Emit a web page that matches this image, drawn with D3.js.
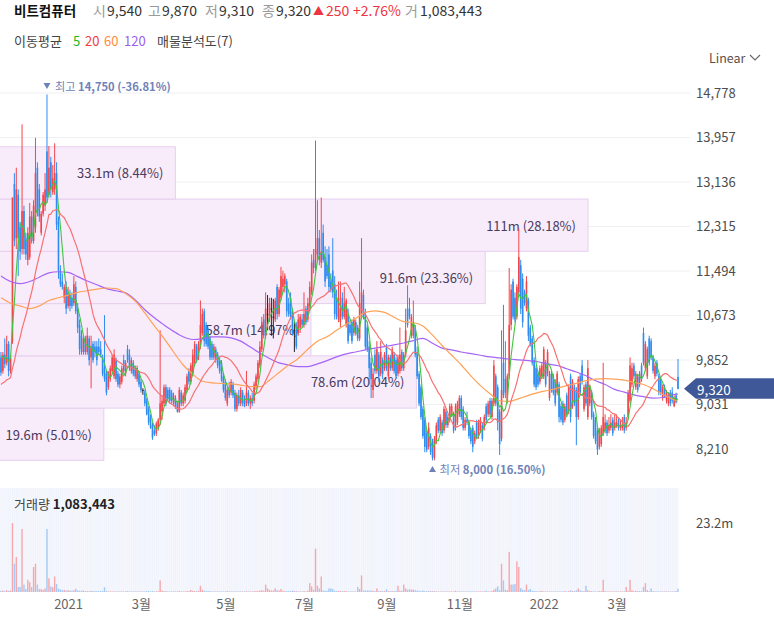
<!DOCTYPE html>
<html><head><meta charset="utf-8">
<script src="https://cdn.jsdelivr.net/npm/d3@7"></script>
<style>
html,body{margin:0;padding:0;background:#fff;}
svg{display:block;font-family:"Noto Sans CJK KR","Noto Sans",sans-serif;}
</style></head><body>
<svg id="chart" width="774" height="622"></svg>
<script>
// ---------------- DATA ----------------
const stockName = "비트컴퓨터";
const startDate = "2020-11-11";
const holidays = ["2020-12-25","2020-12-31","2021-01-01","2021-02-11","2021-02-12","2021-03-01","2021-05-05","2021-05-19",
  "2021-08-16","2021-09-20","2021-09-21","2021-09-22","2021-10-04","2021-10-11","2021-12-31",
  "2022-01-31","2022-02-01","2022-02-02","2022-03-01","2022-03-09"];

const opens = [
9900,9650,9950,9800,10150,9650,10200,13100,12100,12900,
12300,11900,12600,12100,11700,11750,12500,12050,12300,13400,
13000,12200,12550,12700,13700,12900,13500,12950,13000,13300,
12400,11500,11300,11000,11200,10850,11050,11000,10900,11200,
10800,10500,10300,10000,10250,10000,10250,9900,10150,10100,
10100,10100,10050,9900,9700,9600,9350,9500,9650,9550,
9850,9600,9400,9450,9850,9600,10050,9950,9650,9800,
9700,9500,9600,9450,9300,9250,9100,8950,8800,8650,
8550,8500,8600,8750,8900,9050,9350,9300,9300,9250,
9050,9150,9050,8900,9250,9050,9100,9300,9650,9450,
9600,9800,10100,9900,10100,10350,10750,10500,10400,10250,
10150,9900,10050,9950,9850,9800,9550,9450,9050,9300,
9250,9400,9250,8950,9200,9050,9250,9100,9050,9250,
9050,9150,9100,9350,9500,9750,10050,10600,10300,10700,
10600,10800,10650,10600,11200,10700,11000,11200,11250,11300,
10900,11000,10750,10400,10500,10350,10450,10600,10500,10800,
10600,10850,11100,11700,11550,11800,12100,11650,12200,11750,
11600,11800,11300,11500,11250,11000,10600,10550,11000,10650,
10500,10700,10500,10550,10350,10550,10450,10250,10700,11050,
10700,10450,10100,9800,9300,9950,9650,9950,9600,9850,
9700,10100,9550,9900,9700,9950,9850,9600,9650,10000,
9700,9950,10800,10800,10300,10300,10450,10000,9600,9350,
8950,8750,8500,8250,8450,8350,8050,8350,8750,8550,
8700,8550,8900,8650,8750,8850,8850,8600,8700,8850,
9150,8950,8600,8750,8700,8550,8600,8350,8700,8450,
8550,8650,8600,9000,8850,9100,8800,9050,9550,9350,
8900,8400,9800,9500,9100,9550,10500,11300,11000,10650,
11100,11600,11350,11100,10800,10950,10450,10250,9850,9700,
9600,9450,9550,9550,9800,9600,9150,9600,9550,9450,
9250,9400,9000,9050,8750,9200,8900,9550,9000,9350,
9300,8800,9550,9750,8950,9400,8800,9050,9250,8850,
8750,8550,8250,8300,8500,8550,8700,8550,8600,8750,
8600,8650,8750,8600,8600,8800,8600,8800,9100,9400,
9750,9350,9550,9400,9750,10350,9700,9550,10250,10200,
9900,9550,9800,9550,9500,9150,9350,9100,9050,9250,
9250,9000,9200,9540];

const highs = [
10000,10000,10250,10300,10200,9950,12850,13300,13400,13000,
12400,14200,12700,12200,12300,12750,12600,12800,13950,13500,
13100,12600,12950,13300,14750,13800,13600,13450,13850,13500,
12500,11600,11450,11250,11300,11200,11150,11100,11400,11300,
10900,10600,10400,10300,10300,10450,10300,10300,10200,10200,
10200,10250,10200,9950,10680,9650,9650,9750,9950,10050,
9900,9650,9600,9750,9950,9850,10130,10050,9900,9850,
9750,9750,9650,9500,9330,9300,9150,9000,8850,8700,
8650,8720,8780,10400,9200,9400,9400,9350,9350,9300,
9250,9200,9100,9350,9300,9250,9400,9600,9700,9800,
10050,10200,10150,10200,10950,10800,10800,10550,10450,10300,
10200,10150,10100,10000,9900,9850,9600,9500,9350,9450,
9500,9450,9300,9250,9300,9350,9300,9200,9650,9300,
9200,9250,9450,9600,9850,10200,10650,10700,11100,11050,
11000,11000,10980,11000,11250,11200,11570,11500,11450,11350,
11000,11100,10800,10550,10550,10700,10700,10700,11100,10850,
11000,11300,11800,11900,13900,12800,12250,12850,12350,11950,
11900,11950,11450,12100,11400,11150,11300,11300,11100,11200,
10990,10800,10600,10600,10650,10600,10500,11300,12100,11150,
10800,10500,10200,9900,9700,10050,10200,10000,10200,9900,
10000,10150,9950,9950,10100,10000,9900,9950,10450,10050,
10000,10800,11230,11000,10700,10950,10500,10100,9650,9400,
9000,8800,8550,8700,8500,8400,8450,8700,8800,8850,
8750,9000,8950,8850,9050,9050,8900,9050,9100,9200,
9200,9000,8800,8900,8750,8600,8650,8550,8750,8750,
8800,8700,8850,9050,9100,9150,9150,9850,9600,9400,
8950,10400,10870,10200,9600,11550,11250,11350,11100,11250,
12280,11700,11450,11150,11400,11000,10500,10300,9900,9750,
9650,9750,9800,10100,9850,10050,9650,9650,9600,9500,
9650,9450,9050,9100,9050,9250,9400,9600,9500,9400,
9350,9550,9600,9850,9400,9450,9850,9400,9300,8900,
8800,8600,8600,8650,9800,8850,8750,8800,8850,8800,
8850,8850,8800,8750,8800,8850,8800,9300,9900,9800,
9800,9650,9600,9650,9800,10450,10200,10100,10300,10250,
9950,9800,9850,9600,9550,9400,9400,9300,9250,9300,
9350,9200,9250,9870];

const lows = [
9560,9600,9700,9750,9550,9600,10150,11950,11900,11400,
11700,11800,11800,11700,11600,11700,12000,12000,12200,12500,
12400,12150,12500,12600,12750,12850,12850,12900,12900,12250,
11350,11200,11150,10900,10700,10800,10750,10800,10850,10700,
10350,9950,9950,9950,9950,9950,9750,9330,9800,9900,
9750,9950,9900,9550,9450,9200,9300,9450,9600,9500,
9450,9350,9330,9400,9600,9550,9800,9650,9600,9550,
9500,9450,9350,9250,9210,9000,8830,8650,8580,8380,
8450,8450,8550,8650,8750,9000,9000,9100,9050,9050,
9000,8950,8880,8880,9000,9000,9050,9250,9400,9400,
9550,9750,9800,9850,10050,10300,10100,10100,10050,9850,
9850,9850,9800,9700,9600,9450,9250,9100,9000,9150,
9200,9150,8900,8900,9000,9000,9000,8980,9000,9000,
8950,9000,9050,9300,9450,9700,10000,10250,10250,10400,
10550,10300,10250,10550,10600,10650,10950,11100,11100,10650,
10650,10600,10300,10000,10050,10300,10350,10450,10450,10500,
10550,10800,11050,11450,11500,11700,11600,11550,11650,11200,
11350,11100,11100,11000,10600,10600,10550,10450,10600,10600,
10450,10150,10300,10150,10300,10300,10200,10200,10650,10600,
10050,10000,9400,9150,9150,9600,9600,9450,9550,9500,
9650,9650,9500,9650,9650,9600,9500,9550,9600,9650,
9650,9900,10450,10600,10250,10250,9900,9500,9000,8750,
8400,8150,8150,8200,8100,8000,8000,8300,8500,8500,
8450,8500,8600,8600,8700,8800,8500,8550,8650,8800,
8750,8550,8550,8650,8400,8300,8150,8300,8400,8400,
8500,8350,8550,8700,8800,8800,8750,9000,9000,8550,
8100,8350,9150,9150,9050,9500,10400,10600,10550,10600,
11050,10700,10450,10850,10750,10200,10100,9750,9350,9300,
9350,9400,9500,9500,9350,9550,9100,9250,9200,9000,
9200,8700,8700,8650,8700,8800,8850,8700,8950,9000,
8280,8750,9200,9400,8900,9000,8750,9000,8750,8400,
8300,8100,8200,8250,8450,8500,8450,8500,8550,8450,
8550,8600,8550,8550,8550,8500,8550,8750,9050,9350,
9500,9300,9250,9350,9450,9750,9650,9500,9750,9850,
9600,9500,9550,9200,9200,9100,9150,9050,9000,9000,
9050,8980,9050,9310];

const closes = [
9620,9950,9780,10150,9650,9900,12850,12050,13000,12100,
11850,12600,11900,11800,12200,12500,12050,12700,13300,12600,
12500,12550,12900,13000,12850,13400,13000,13200,13300,12350,
11500,11250,11200,11200,10800,11100,10850,10850,11250,10750,
10450,10050,10000,10250,10000,10300,9850,10100,9850,10000,
9850,10000,9950,9600,9500,9250,9600,9700,9900,9950,
9500,9400,9550,9700,9650,9800,9850,9700,9850,9600,
9550,9700,9400,9300,9300,9050,8850,8700,8600,8420,
8480,8680,8750,9050,9100,9350,9050,9150,9100,9100,
9200,9000,8900,9300,9050,9200,9350,9550,9450,9750,
9950,10150,9850,10150,10500,10700,10200,10150,10100,9900,
9900,10100,9850,9750,9650,9480,9300,9150,9300,9200,
9450,9200,8950,9200,9050,9300,9050,9000,9250,9050,
9150,9050,9400,9550,9800,10100,10550,10300,10800,10700,
10900,10800,10650,10950,10700,11150,11400,11350,11400,10750,
10700,10650,10350,10400,10100,10600,10650,10500,10700,10550,
10900,11200,11650,11550,11900,12100,11700,11850,11700,11300,
11400,11200,11150,11100,10700,10650,11000,10800,10650,10900,
10950,10200,10350,10200,10600,10350,10250,10900,11100,10650,
10100,10050,9700,9500,9600,9650,10050,9550,10000,9600,
9950,9700,9900,9700,10050,9650,9550,9900,9950,9700,
9950,10400,10500,10650,10650,10500,9950,9550,9050,8800,
8450,8250,8200,8600,8150,8050,8400,8650,8550,8800,
8500,8950,8650,8800,9000,9000,8550,9000,9050,9150,
8800,8600,8750,8700,8450,8350,8250,8500,8450,8700,
8750,8400,8800,8750,9050,8850,9100,9750,9050,8700,
8300,9300,9200,9250,9550,10500,11150,10650,10600,11200,
11750,10800,10550,10900,11300,10300,10150,9800,9400,9350,
9400,9700,9750,10050,9400,10000,9600,9300,9250,9050,
9600,8800,8750,8700,9000,8850,9350,8800,9450,9050,
8800,9500,9250,9450,9350,9050,9700,9350,8800,8450,
8350,8200,8550,8600,8800,8700,8500,8650,8700,8500,
8700,8700,8600,8650,8650,8550,8700,9250,9750,9700,
9550,9600,9300,9600,9500,9800,10150,10050,9800,9900,
9650,9750,9600,9250,9250,9350,9200,9250,9200,9050,
9100,9150,9070,9320];

// volume in millions of shares
const volumes = [
0.4,0.5,0.3,0.6,0.4,0.5,23.2,9.5,11.8,1.7,
1.7,21.2,2.5,1.0,4.1,3.3,1.7,8.4,9.5,2.5,
1.0,1.0,0.7,1.2,21.2,4.6,1.9,1.6,5.2,2.7,
1.1,0.9,0.6,0.7,0.5,0.6,0.5,0.4,0.6,1.1,
0.5,0.4,0.4,0.5,0.3,0.3,0.3,0.4,0.3,0.3,
0.3,0.3,0.3,0.4,1.6,0.3,0.2,0.2,0.2,0.2,
0.2,0.2,0.2,0.2,0.2,0.2,0.3,0.2,0.2,0.2,
0.2,0.2,0.2,0.2,0.2,0.2,0.3,0.3,0.2,0.3,
0.2,0.2,0.3,3.9,0.5,0.3,0.3,0.2,0.2,0.2,
0.2,0.2,0.2,0.3,0.2,0.2,0.2,0.3,0.3,0.7,
0.4,0.3,0.3,0.4,2.1,0.7,0.4,0.3,0.3,0.3,
0.2,0.2,0.2,0.2,0.2,0.2,0.2,0.2,0.3,0.2,
0.2,0.2,0.2,0.2,0.2,0.2,0.2,0.2,0.3,0.2,
0.2,0.2,0.3,0.3,0.3,0.5,0.6,0.4,2.5,1.2,
0.7,0.5,0.5,1.2,0.6,0.5,1.0,0.4,0.3,0.3,
0.3,0.3,0.5,0.3,0.3,0.2,0.2,0.2,0.3,0.2,
0.4,3.0,1.9,0.8,14.6,2.1,1.2,5.2,0.5,0.4,
0.4,1.2,1.2,1.0,0.4,0.3,0.4,0.3,0.3,0.3,
0.3,0.2,0.2,0.2,0.2,0.2,1.7,1.0,5.6,0.5,
0.5,0.5,0.5,0.5,0.4,0.3,1.2,0.3,0.3,0.3,
0.3,0.9,0.3,0.3,0.3,0.3,0.4,2.1,0.5,0.4,
2.5,1.2,0.8,0.9,0.8,0.8,0.6,0.5,0.4,0.3,
0.5,0.3,0.3,0.3,0.3,0.3,0.3,0.2,0.2,0.2,
0.2,0.2,0.2,0.2,0.2,0.2,0.2,0.4,0.2,0.2,
0.2,0.2,0.2,0.2,0.2,0.2,0.2,0.2,0.2,0.2,
0.2,0.2,0.2,0.4,0.2,0.2,0.3,0.8,1.2,1.9,
0.6,9.5,3.9,0.8,0.6,13.5,2.5,2.5,2.7,10.3,
8.4,1.3,0.8,0.6,2.5,0.7,1.0,0.4,0.3,0.3,
0.2,0.3,0.4,0.2,0.2,0.2,0.2,0.2,0.2,0.2,
0.2,0.2,0.2,0.2,0.3,0.2,0.3,0.6,0.3,0.3,
0.5,1.2,0.6,0.3,0.3,2.1,0.6,0.3,0.3,0.2,
0.2,0.2,0.3,0.3,4.1,0.3,0.2,0.2,0.2,0.2,
0.2,0.2,0.2,0.2,0.2,0.2,1.7,0.3,4.1,0.6,
0.3,0.4,0.3,0.3,0.3,1.7,3.0,0.6,0.3,1.2,
0.3,0.2,0.2,0.2,0.2,0.2,0.2,0.2,0.2,0.2,
0.2,0.2,0.3,1.083443];

// moving averages: 5 and 20 computed from closes (seeded with level read at left edge)
const maPeriods = [5, 20];
const maSeeds = [10000, 9390];
// 60 and 120 day averages every 5 sessions (+ last session)
const maSampleStep = 5;
const ma60 = [11000,10900,10850,10800,10850,10950,11000,11050,11100,11130,
 11160,11180,11170,11080,10940,10720,10480,10250,10000,9760,
 9590,9460,9430,9420,9410,9390,9360,9360,9480,9620,
 9760,9880,10050,10200,10280,10400,10510,10620,10730,10760,
 10730,10640,10560,10540,10480,10310,10120,9940,9760,9560,
 9380,9230,9100,9090,9140,9200,9250,9290,9330,9380,
 9420,9470,9500,9510,9500,9480,9440,9400,9320,9220,
 9130,9090];
const ma120 = [11400,11300,11260,11300,11380,11460,11480,11470,11390,11310,
 11240,11170,11130,11090,10960,10780,10630,10500,10380,10280,
 10230,10240,10280,10280,10260,10200,10090,9980,9880,9800,
 9760,9730,9730,9780,9840,9910,9965,10000,10040,10070,
 10100,10130,10165,10210,10250,10160,10070,10040,10000,9970,
 9940,9910,9890,9870,9855,9840,9820,9780,9750,9690,
 9630,9560,9470,9400,9310,9260,9210,9175,9150,9160,
 9210,9225];

const priceTicks = [8210, 9031, 9852, 10673, 11494, 12315, 13136, 13957, 14778];
const volumeTicks = [23.2];
const xTickMonths = ["2021-01","2021-03","2021-05","2021-07","2021-09","2021-11","2022-01","2022-03"];
const xTickLabels = ["2021","3월","5월","7월","9월","11월","2022","3월"];

// volume profile (매물분석도, 7 bins, bottom → top)
const profileVolume = [19.6, 78.6, 58.7, 91.6, 111, 33.1, 0];
const profilePct = [5.01, 20.04, 14.97, 23.36, 28.18, 8.44, 0];

// ---------------- DRAW ----------------
const n = closes.length;
const RED = "#f2464b", BLUE = "#2e8cf0", EVEN = "#222";
const VRED = "#f6a7ac", VBLUE = "#a3c9f4";
const fmt = d3.format(",");
const svg = d3.select("#chart");

// trading calendar
const hol = new Set(holidays);
const dates = [];
{
  const d = new Date(startDate + "T00:00:00Z");
  while (dates.length < n) {
    const s = d.toISOString().slice(0, 10), w = d.getUTCDay();
    if (w !== 0 && w !== 6 && !hol.has(s)) dates.push(s);
    d.setUTCDate(d.getUTCDate() + 1);
  }
}
const tickIdx = xTickMonths.map(m => dates.findIndex(s => s.startsWith(m)));

const x = d3.scaleLinear().domain([0, n - 1]).range([0.95, 678]);
const y = d3.scaleLinear().domain([priceTicks[0], priceTicks[priceTicks.length - 1]]).range([449, 93]);
const yVol = d3.scaleLinear().domain([0, volumeTicks[0]]).range([592, 523]);

const dir = i => closes[i] > opens[i] ? 1 : (closes[i] < opens[i] ? -1 : 0);
const cColor = i => dir(i) > 0 ? RED : (dir(i) < 0 ? BLUE : EVEN);

// gridlines
svg.append("g").selectAll("line").data(priceTicks).join("line")
  .attr("x1", 0).attr("x2", 690).attr("y1", d => y(d)).attr("y2", d => y(d))
  .attr("stroke", "#eff0f4").attr("stroke-width", 1);

// price axis labels
const yAxis = svg.append("g").attr("transform", "translate(690,0)")
  .call(d3.axisRight(y).tickValues(priceTicks).tickFormat(fmt).tickSize(0).tickPadding(6));
yAxis.select(".domain").remove();
yAxis.selectAll("text").attr("fill", "#4d4d4d").attr("font-size", 13)
  .attr("font-family", '"Noto Sans CJK KR","Noto Sans",sans-serif');

// volume profile boxes
const pLo = d3.min(lows), pHi = d3.max(highs);
const binH = (pHi - pLo) / profileVolume.length;
const xp = d3.scaleLinear().domain([0, d3.max(profileVolume)]).range([0, 588]);
const prof = profileVolume.map((v, k) => ({ v, pct: profilePct[k], p0: pLo + k * binH, p1: pLo + (k + 1) * binH }))
  .filter(d => d.v > 0);
const pg = svg.append("g");
pg.selectAll("rect").data(prof).join("rect")
  .attr("x", -1).attr("y", d => y(d.p1)).attr("width", d => xp(d.v) + 1).attr("height", d => y(d.p0) - y(d.p1))
  .attr("fill", "#f8ecfb").attr("stroke", "#e6cfee").attr("stroke-width", 1);
pg.selectAll("text").data(prof).join("text")
  .attr("x", d => xp(d.v) - 12).attr("y", d => (y(d.p0) + y(d.p1)) / 2)
  .attr("text-anchor", "end").attr("dominant-baseline", "central")
  .attr("font-size", 13).attr("fill", "#4a3a5c")
  .text(d => (d.v >= 100 ? d3.format(".0f")(d.v) : d3.format(".1f")(d.v)) + "m (" + d.pct.toFixed(2) + "%)");

// candles
const idx = d3.range(n);
const cg = svg.append("g");
cg.selectAll("line").data(idx).join("line")
  .attr("x1", i => x(i)).attr("x2", i => x(i))
  .attr("y1", i => y(Math.max(highs[i], opens[i], closes[i])))
  .attr("y2", i => y(Math.min(lows[i], opens[i], closes[i])))
  .attr("stroke", cColor).attr("stroke-width", 1);
cg.selectAll("rect").data(idx).join("rect")
  .attr("x", i => x(i) - 0.8).attr("width", 1.6)
  .attr("y", i => y(Math.max(opens[i], closes[i])))
  .attr("height", i => Math.max(1, y(Math.min(opens[i], closes[i])) - y(Math.max(opens[i], closes[i]))))
  .attr("fill", cColor);

// moving averages
function movingAvg(period, seed) {
  return closes.map((c, i) => {
    let s = 0;
    for (let k = i - period + 1; k <= i; k++) s += k >= 0 ? closes[k] : seed;
    return s / period;
  });
}
const line = d3.line().x(d => x(d[0])).y(d => y(d[1]));
const smooth = d3.line().x(d => x(d[0])).y(d => y(d[1])).curve(d3.curveMonotoneX);
const sampled = arr => arr.map((v, k) => [Math.min(k * maSampleStep, n - 1), v]);
const mg = svg.append("g").attr("fill", "none");
mg.append("path").attr("d", smooth(sampled(ma120))).attr("stroke", "#a564f4").attr("stroke-width", 1.2);
mg.append("path").attr("d", smooth(sampled(ma60))).attr("stroke", "#ffa257").attr("stroke-width", 1.2);
const ma20 = movingAvg(maPeriods[1], maSeeds[1]);
const ma5 = movingAvg(maPeriods[0], maSeeds[0]);
mg.append("path").attr("d", line(ma20.map((v, i) => [i, v]))).attr("stroke", "#f87171").attr("stroke-width", 1.2);
mg.append("path").attr("d", line(ma5.map((v, i) => [i, v]))).attr("stroke", "#3fc53f").attr("stroke-width", 1.1);

// high / low markers
const last = n - 1;
const hiI = highs.indexOf(pHi), loI = lows.indexOf(pLo);
const MK = "#6f82b7";
const hiPct = (closes[last] - pHi) / pHi * 100, loPct = (closes[last] - pLo) / pLo * 100;
svg.append("path").attr("d", `M${x(hiI) - 3.5},83 L${x(hiI) + 3.5},83 L${x(hiI)},89 Z`).attr("fill", MK);
const ht = svg.append("text").attr("x", x(hiI) + 8).attr("y", 86).attr("dominant-baseline", "central")
  .attr("font-size", 11.2).attr("fill", MK);
ht.append("tspan").text("최고 ");
ht.append("tspan").attr("font-weight", 700).text(fmt(pHi) + " (" + hiPct.toFixed(2) + "%)");
svg.append("path").attr("d", `M${x(loI) - 3.5},472 L${x(loI) + 3.5},472 L${x(loI)},466 Z`).attr("fill", MK);
const lt = svg.append("text").attr("x", x(loI) + 7).attr("y", 469).attr("dominant-baseline", "central")
  .attr("font-size", 11.3).attr("fill", MK);
lt.append("tspan").text("최저 ");
lt.append("tspan").attr("font-weight", 700).text(fmt(pLo) + " (" + loPct.toFixed(2) + "%)");

// current price tag
const yc = y(closes[last]);
svg.append("path").attr("d", `M684,${yc} L696,${yc - 10.5} L774,${yc - 10.5} L774,${yc + 10} L696,${yc + 10} Z`).attr("fill", "#3f5897");
svg.append("text").attr("x", 697).attr("y", yc).attr("dominant-baseline", "central")
  .attr("font-size", 13.5).attr("fill", "#fff").text(fmt(closes[last]));

// volume panel
svg.append("rect").attr("x", 0).attr("y", 488).attr("width", 678).attr("height", 104).attr("fill", "#f7f8fd");
svg.append("g").selectAll("line").data(idx).join("line")
  .attr("x1", i => x(i)).attr("x2", i => x(i)).attr("y1", 488).attr("y2", 592)
  .attr("stroke", "#eef1fa").attr("stroke-width", 0.8);
svg.append("g").selectAll("rect").data(idx).join("rect")
  .attr("x", i => x(i) - 0.7).attr("width", 1.4)
  .attr("y", i => yVol(volumes[i])).attr("height", i => yVol(0) - yVol(volumes[i]))
  .attr("fill", i => dir(i) < 0 ? VBLUE : VRED);
const vAxis = svg.append("g").attr("transform", "translate(690,0)")
  .call(d3.axisRight(yVol).tickValues(volumeTicks).tickFormat(d => d + "m").tickSize(0).tickPadding(6));
vAxis.select(".domain").remove();
vAxis.selectAll("text").attr("fill", "#4d4d4d").attr("font-size", 13)
  .attr("font-family", '"Noto Sans CJK KR","Noto Sans",sans-serif');
const vt = svg.append("text").attr("x", 14).attr("y", 503).attr("dominant-baseline", "central").attr("font-size", 13);
vt.append("tspan").attr("fill", "#444").text("거래량 ");
vt.append("tspan").attr("fill", "#222").attr("font-weight", 700).text(fmt(Math.round(volumes[last] * 1e6)));

// x axis
const xAxis = svg.append("g").attr("transform", "translate(0,592)")
  .call(d3.axisBottom(x).tickValues(tickIdx).tickFormat((d, k) => xTickLabels[k]).tickSize(0).tickPadding(8));
xAxis.select(".domain").remove();
xAxis.selectAll("text").attr("fill", "#666").attr("font-size", 13)
  .attr("font-family", '"Noto Sans CJK KR","Noto Sans",sans-serif');

// header
const prevClose = closes[last - 1];
const chg = closes[last] - prevClose, chgPct = chg / prevClose * 100;
function put(xx, yy, s, fill, size, weight) {
  return svg.append("text").attr("x", xx).attr("y", yy).attr("dominant-baseline", "central")
    .attr("font-size", size).attr("font-weight", weight || 400).attr("fill", fill).text(s);
}
put(14, 10, stockName, "#111", 13.5, 700);
[["시", 93, opens[last]], ["고", 148, highs[last]], ["저", 205, lows[last]], ["종", 262, closes[last]]].forEach(([lab, xx, v]) => {
  put(xx, 10, lab, "#9a9a9a", 14);
  put(xx + 14, 10, fmt(v), "#333", 14);
});
put(313, 10, chg >= 0 ? "▲" : "▼", "#ef3340", 11);
put(326, 10, fmt(Math.abs(chg)), "#ef3340", 14);
put(353, 10, (chg >= 0 ? "+" : "") + chgPct.toFixed(2) + "%", "#ef3340", 14);
put(405, 10, "거", "#9a9a9a", 14);
put(420, 10, fmt(Math.round(volumes[last] * 1e6)), "#333", 14);

// legend
put(14, 40, "이동평균", "#444", 13);
const maLegend = [["5", 73, "#22b822"], ["20", 85, "#f03c3c"], ["60", 104, "#ff8b3d"], ["120", 124, "#9c5cf0"]];
maLegend.forEach(([t, xx, c]) => put(xx, 40, t, c, 13));
put(157, 40, "매물분석도(7)", "#444", 13);

// scale selector
put(709, 57, "Linear", "#5c5048", 12.5);
svg.append("path").attr("d", "M750,55 L755,60 L760,55").attr("fill", "none").attr("stroke", "#666").attr("stroke-width", 1.1);
</script>
</body></html>
